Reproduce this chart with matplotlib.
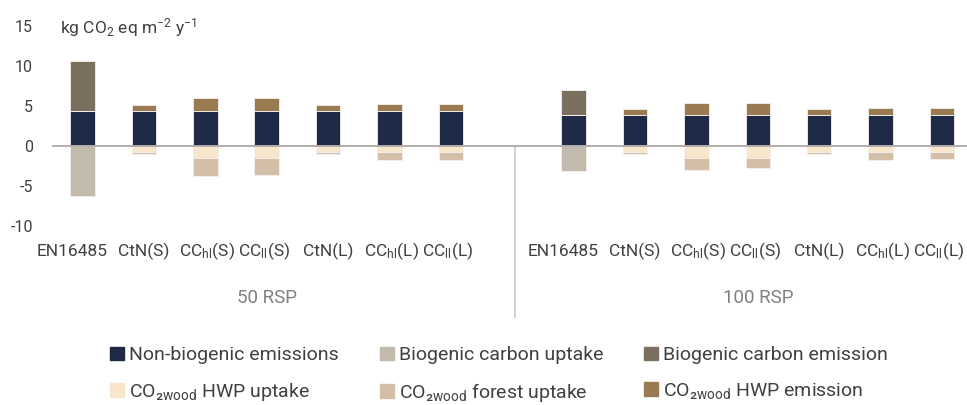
import matplotlib
matplotlib.use("Agg")
import matplotlib.pyplot as plt
from matplotlib.patches import Patch
from matplotlib.transforms import blended_transform_factory
import numpy as np

plt.rcParams['font.family'] = ['Roboto', 'DejaVu Sans']
plt.rcParams['mathtext.fontset'] = 'custom'
plt.rcParams['mathtext.rm'] = 'Roboto'
plt.rcParams['mathtext.it'] = 'Roboto:italic'
plt.rcParams['mathtext.bf'] = 'Roboto:bold'
plt.rcParams['mathtext.default'] = 'regular'

# ---- data (kg CO2 eq m-2 y-1) ----
categories = ['EN16485', 'CtN(S)', 'CC$_{hl}$(S)', 'CC$_{ll}$(S)',
              'CtN(L)', 'CC$_{hl}$(L)', 'CC$_{ll}$(L)']
groups = ['50 RSP', '100 RSP']

non_biogenic_50 = [4.4, 4.4, 4.4, 4.4, 4.4, 4.4, 4.4]
bio_emission_50 = [6.25, 0, 0, 0, 0, 0, 0]
bio_uptake_50 = [-6.25, 0, 0, 0, 0, 0, 0]
hwp_emission_50 = [0, 0.75, 1.54, 1.54, 0.75, 0.83, 0.83]
hwp_uptake_50 = [0, -0.75, -1.5, -1.5, -0.75, -0.83, -0.83]
forest_uptake_50 = [0, -0.25, -2.29, -2.13, -0.25, -1.0, -0.92]

non_biogenic_100 = [3.9, 3.9, 3.9, 3.9, 3.9, 3.9, 3.9]
bio_emission_100 = [3.12, 0, 0, 0, 0, 0, 0]
bio_uptake_100 = [-3.17, 0, 0, 0, 0, 0, 0]
hwp_emission_100 = [0, 0.67, 1.46, 1.46, 0.67, 0.79, 0.79]
hwp_uptake_100 = [0, -0.75, -1.5, -1.5, -0.75, -0.75, -0.75]
forest_uptake_100 = [0, -0.25, -1.5, -1.29, -0.25, -1.0, -0.92]

series_labels = ['Non-biogenic emissions', 'Biogenic carbon uptake',
                 'Biogenic carbon emission',
                 'CO₂$_{wood}$ HWP uptake', 'CO₂$_{wood}$ forest uptake',
                 'CO₂$_{wood}$ HWP emission']
colors = {
    'non_bio': '#1e2a46',
    'bio_up': '#c2baad',
    'bio_em': '#7b705f',
    'hwp_up': '#f7e6cb',
    'forest_up': '#d3bea8',
    'hwp_em': '#9a7a50',
}

# ---- concatenate both groups with an empty slot between them ----
n = len(categories)
x = np.concatenate([np.arange(n), np.arange(n) + n + 1])
non_bio = np.array(non_biogenic_50 + non_biogenic_100)
bio_em = np.array(bio_emission_50 + bio_emission_100)
bio_up = np.array(bio_uptake_50 + bio_uptake_100)
hwp_em = np.array(hwp_emission_50 + hwp_emission_100)
hwp_up = np.array(hwp_uptake_50 + hwp_uptake_100)
forest_up = np.array(forest_uptake_50 + forest_uptake_100)

fig = plt.figure(figsize=(9.67, 4.05), dpi=100)
ax = fig.add_axes([0.0535, 0.4427, 0.9524, 0.4938])

w = 0.4
ek = dict(edgecolor='#f4f1ee', linewidth=0.6, width=w, zorder=3)
ax.bar(x, non_bio, color=colors['non_bio'], **ek)
ax.bar(x, bio_em, bottom=non_bio, color=colors['bio_em'], **ek)
ax.bar(x, hwp_em, bottom=non_bio, color=colors['hwp_em'], **ek)
ax.bar(x, bio_up, color=colors['bio_up'], **ek)
ax.bar(x, hwp_up, color=colors['hwp_up'], **ek)
ax.bar(x, forest_up, bottom=hwp_up, color=colors['forest_up'], **ek)

ax.set_xlim(-0.5, 14.5)
ax.set_ylim(-10, 15)
ax.set_yticks([-10, -5, 0, 5, 10, 15])
ax.set_yticklabels(['-10', '-5', '0', '5', '10', '15'])
ax.tick_params(axis='y', length=0, pad=13.5, labelsize=11.5, labelcolor='#404040')
ax.set_xticks([])
for s in ax.spines.values():
    s.set_visible(False)
ax.axhline(0, color='#b3adab', linewidth=1.4, zorder=4)

trans = blended_transform_factory(ax.transData, ax.transAxes)
label_shift = [-0.17, 0, 0.03, -0.04, 0, 0.03, -0.06]
for xi, lab, dx in zip(x, categories * 2, label_shift * 2):
    ax.text(xi + dx, -0.127, lab, transform=trans, ha='center', va='center',
            fontsize=12.5, color='#404040')
for gi, g in enumerate(groups):
    cx = gi * (n + 1) + (n - 1) / 2
    ax.text(cx, -0.36, g, transform=trans, ha='center', va='center',
            fontsize=13.5, color='#808080')
ax.plot([n + 0.04, n + 0.04], [0.4, -0.457], transform=trans, color='#d3cfcf',
        linewidth=1.4, clip_on=False)

fig.text(0.062, 0.931, 'kg CO$_2$ eq m$^{-2}$ y$^{-1}$', ha='left', va='center',
         fontsize=12.5, color='#404040')

handles = [Patch(color=colors[k]) for k in
           ['non_bio', 'bio_up', 'bio_em', 'hwp_up', 'forest_up', 'hwp_em']]
order = [0, 3, 1, 4, 2, 5]
fig.legend([handles[i] for i in order], [series_labels[i] for i in order],
           ncol=3, loc='center', bbox_to_anchor=(0.516, 0.074), frameon=False,
           fontsize=14, handlelength=0.72, handleheight=0.72,
           handletextpad=0.27, columnspacing=2.1, labelspacing=0.85,
           labelcolor='#404040')

fig.savefig('out.png', dpi=100)
